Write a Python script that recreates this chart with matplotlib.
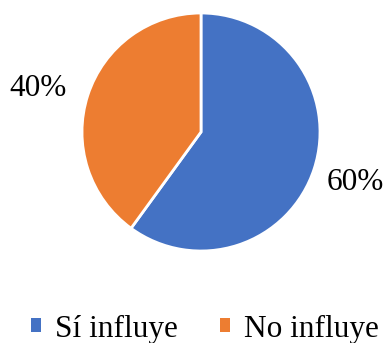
import matplotlib
matplotlib.use("Agg")
import matplotlib.pyplot as plt
from matplotlib.patches import Patch

plt.rcParams["font.family"] = ["Liberation Serif", "DejaVu Serif"]

categories = ["Sí influye", "No influye"]
values = [60, 40]
labels = ["60%", "40%"]
colors = ["#4472C4", "#ED7D31"]

W, H = 388, 343
fig = plt.figure(figsize=(W/100, H/100), dpi=100)
ax = fig.add_axes([0, 0, 1, 1])
ax.pie(values, colors=colors, startangle=90, counterclock=False,
       center=(201, H-132), radius=119, frame=True,
       wedgeprops=dict(edgecolor="white", linewidth=2))
ax.set_xlim(0, W)
ax.set_ylim(0, H)
ax.axis("off")

ax.text(355, H-183, labels[0], ha="center", va="center", fontsize=22.5)
ax.text(38, H-88, labels[1], ha="center", va="center", fontsize=22.5)

handles = [Patch(facecolor=c, edgecolor="none") for c in colors]
leg = ax.legend(handles, categories, loc="center", bbox_to_anchor=(205/W, 1-329/H),
                ncol=2, frameon=False, prop=dict(size=22.5),
                handlelength=0.33, handleheight=0.33, handletextpad=0.45,
                columnspacing=1.35, borderaxespad=0, borderpad=0)
fig.savefig("out.png", dpi=100)
